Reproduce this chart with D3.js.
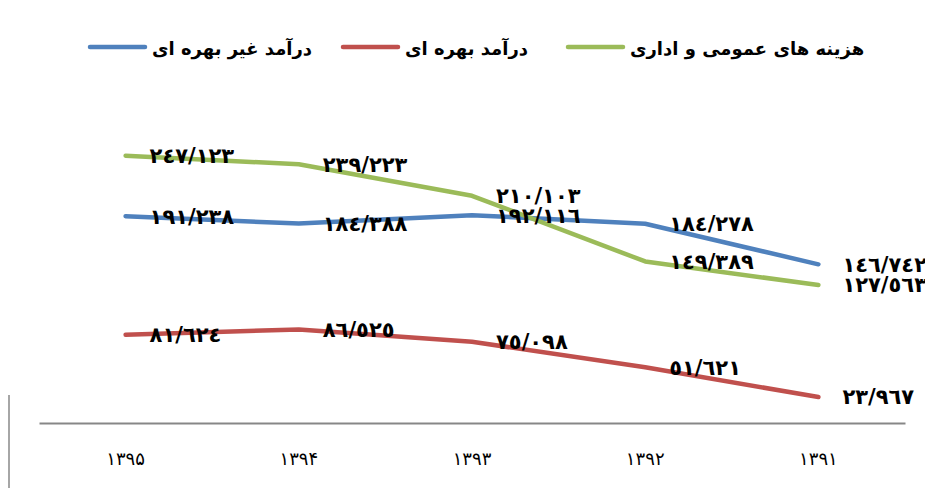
<html>
<head>
<meta charset="utf-8">
<script src="https://d3js.org/d3.v7.min.js"></script>
<style>
  body { margin: 0; background: #fff; }
  svg { display: block; }
</style>
</head>
<body>
<div id="chart"></div>
<script>
// categories (years, left to right as in the picture)
var years = ["۱۳۹۵", "۱۳۹۴", "۱۳۹۳", "۱۳۹۲", "۱۳۹۱"];

// series values (millions)
var nonInterest = [191.238, 184.388, 192.116, 184.278, 146.742];
var interest = [81.624, 86.525, 75.098, 51.621, 23.967];
var adminCost = [247.123, 239.223, 210.103, 149.389, 127.563];

// data label texts as printed
var nonInterestLabels = ["١٩١/٢٣٨", "١٨٤/٣٨٨", "١٩٢/١١٦", "١٨٤/٢٧٨", "١٤٦/٧٤٢"];
var interestLabels = ["٨١/٦٢٤", "٨٦/٥٢٥", "٧٥/٠٩٨", "٥١/٦٢١", "٢٣/٩٦٧"];
var adminCostLabels = ["٢٤٧/١٢٣", "٢٣٩/٢٢٣", "٢١٠/١٠٣", "١٤٩/٣٨٩", "١٢٧/٥٦٣"];

var seriesNames = ["درآمد غیر بهره ای", "درآمد بهره ای", "هزینه های عمومی و اداری"];
var seriesColors = ["#4F81BD", "#C0504D", "#9BBB59"];

var width = 925, height = 488;

var svg = d3.select("#chart").append("svg")
    .attr("width", width)
    .attr("height", height);

// set the ranges
var x = d3.scaleBand().domain(years).range([39, 905]);
var y = d3.scaleLinear().domain([0, 300]).range([423, 98.6]);

// chart frame piece on the left
svg.append("line")
    .attr("x1", 9).attr("x2", 9)
    .attr("y1", 395).attr("y2", height)
    .attr("stroke", "#a6a6a6")
    .attr("stroke-width", 2);

// x axis
var xAxis = svg.append("g")
    .attr("transform", "translate(0," + y(0) + ")")
    .call(d3.axisBottom(x).tickSize(0).tickPadding(29));
xAxis.select(".domain")
    .attr("stroke", "#878787")
    .attr("stroke-width", 2);
xAxis.selectAll("text")
    .style("font-family", "DejaVu Sans, sans-serif")
    .style("font-size", "18px")
    .attr("fill", "#000");

var series = [
  {values: nonInterest, labels: nonInterestLabels},
  {values: interest, labels: interestLabels},
  {values: adminCost, labels: adminCostLabels}
];

var line = d3.line()
    .x(function(d, i) { return x(years[i]) + x.bandwidth() / 2; })
    .y(function(d) { return y(d); });

// draw lines in the same order as Excel (blue, red, green)
series.forEach(function(s, k) {
  svg.append("path")
      .datum(s.values)
      .attr("fill", "none")
      .attr("stroke", seriesColors[k])
      .attr("stroke-width", 4.5)
      .attr("stroke-linejoin", "round")
      .attr("stroke-linecap", "round")
      .attr("d", line);
});

// data labels, to the right of each point
series.forEach(function(s, k) {
  svg.selectAll(".lbl" + k)
      .data(s.values)
      .enter()
      .append("text")
      .attr("class", "lbl" + k)
      .attr("x", function(d, i) { return x(years[i]) + x.bandwidth() / 2 + 24; })
      .attr("y", function(d) { return y(d); })
      .attr("dy", "0.35em")
      .style("font-family", "DejaVu Sans, sans-serif")
      .style("font-weight", "bold")
      .style("font-size", "21px")
      .attr("fill", "#000")
      .text(function(d, i) { return s.labels[i]; });
});

// legend
var legendX = [90, 343, 568];
var legend = svg.selectAll(".legend")
    .data(seriesNames)
    .enter()
    .append("g")
    .attr("class", "legend")
    .attr("transform", function(d, i) { return "translate(" + legendX[i] + ",47)"; });

legend.append("line")
    .attr("x1", 0).attr("x2", 55)
    .attr("stroke", function(d, i) { return seriesColors[i]; })
    .attr("stroke-width", 4.5)
    .attr("stroke-linecap", "round");

legend.append("text")
    .attr("x", 62)
    .attr("y", 2)
    .attr("dy", "0.35em")
    .style("font-family", "DejaVu Sans, sans-serif")
    .style("font-weight", "bold")
    .style("font-size", "18px")
    .attr("fill", "#000")
    .text(function(d) { return d; });
</script>
</body>
</html>
